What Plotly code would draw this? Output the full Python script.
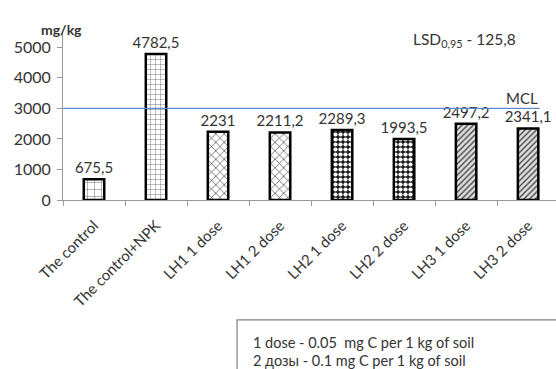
import plotly.graph_objects as go

categories = ["The control", "The control+NPK", "LH1 1 dose", "LH1 2 dose",
              "LH2 1 dose", "LH2 2 dose", "LH3 1 dose", "LH3 2 dose"]
values = [675.5, 4782.5, 2231, 2211.2, 2289.3, 1993.5, 2497.2, 2341.1]
y_ticks = [0, 1000, 2000, 3000, 4000, 5000]
mcl_value = 3000
lsd_text = "LSD<sub>0,95</sub> - 125,8"
note_lines = ["1 dose - 0.05  mg C per 1 kg of soil",
              "2 дозы - 0.1 mg C per 1 kg of soil"]

labels = [f"{v:g}".replace(".", ",") for v in values]

shapes_ = ["+", "+", "x", "x", ".", ".", "/", "/"]
fg = ["#777", "#555", "#333", "#333", "white", "white", "#444", "#444"]
bg = ["white", "white", "white", "white", "#1a1a1a", "#1a1a1a", "#e0e0e0", "#e0e0e0"]
sizes = [7, 5, 6, 6, 5, 5, 4, 4]
sol = [0.15, 0.15, 0.2, 0.2, 0.55, 0.55, 0.35, 0.35]

FONT = "Lato, Carlito, Calibri, sans-serif"
TXT = "#333333"

fig = go.Figure()
fig.add_trace(go.Bar(
    x=categories, y=values, width=0.33,
    text=labels, textposition="outside", cliponaxis=False, constraintext="none",
    textfont=dict(size=15, color=TXT, family=FONT),
    marker=dict(color="white",
                line=dict(color="black", width=2.5),
                pattern=dict(shape=shapes_, fgcolor=fg, bgcolor=bg,
                             size=sizes, solidity=sol, fillmode="replace")),
    showlegend=False,
))

fig.update_layout(
    width=556, height=369,
    margin=dict(l=63, r=0, t=32, b=169, autoexpand=False),
    plot_bgcolor="white", paper_bgcolor="white",
    font=dict(family=FONT, color=TXT),
    bargap=0.67,
)
fig.update_xaxes(range=[-0.5, 7.45], tickangle=-45, tickson="boundaries",
                 ticks="outside", ticklen=5, tickcolor="#999",
                 showline=True, linecolor="#999", linewidth=1,
                 ticklabelstandoff=10,
                 tickfont=dict(size=15, color=TXT), showgrid=False)
fig.update_yaxes(range=[0, 5500], tickvals=y_ticks, ticks="outside", ticklen=5,
                 tickcolor="#999", showline=True, linecolor="#999", linewidth=1,
                 ticklabelstandoff=3,
                 tickfont=dict(size=16, color=TXT), showgrid=False, zeroline=False)

fig.add_shape(type="line", xref="paper", yref="y", x0=0, x1=0.967,
              y0=mcl_value, y1=mcl_value, line=dict(color="#5b8bd0", width=1.2))

fig.add_annotation(xref="paper", yref="y", x=0.931, y=mcl_value + 330,
                   xanchor="center", yanchor="middle",
                   text="MCL", showarrow=False, font=dict(size=15, color=TXT))
fig.add_annotation(xref="paper", yref="paper", x=0.815, y=0.95,
                   xanchor="center", yanchor="middle",
                   text=lsd_text, showarrow=False, font=dict(size=15.5, color=TXT))
fig.add_annotation(xref="paper", yref="paper", x=-0.004, y=1.012,
                   xanchor="center", yanchor="middle",
                   text="<b>mg/kg</b>", showarrow=False, font=dict(size=14, color=TXT))

fig.add_shape(type="rect", xref="paper", yref="paper", x0=0.353, x1=1.2,
              y0=-1.19, y1=-0.714, line=dict(color="#808080", width=1.2),
              fillcolor="white", layer="above")
for i, line in enumerate(note_lines):
    fig.add_annotation(xref="paper", yref="paper", x=0.381, y=[-0.851, -0.958][i],
                       xanchor="left", yanchor="middle", text=line, showarrow=False,
                       font=dict(size=14.5, color=TXT))

fig.write_html("out.html", config={"displayModeBar": False},
               post_script="document.body.style.margin='0';document.body.style.overflow='hidden';")
